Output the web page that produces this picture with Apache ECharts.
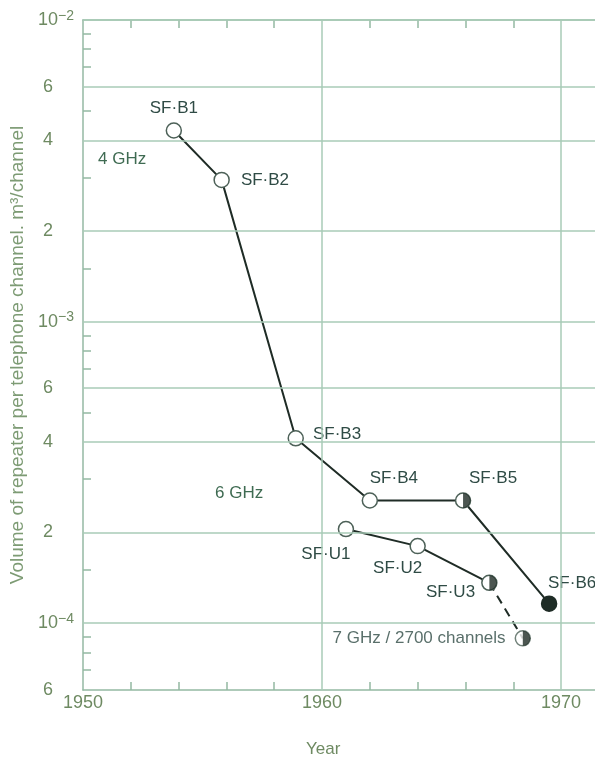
<!DOCTYPE html>
<html>
<head>
<meta charset="utf-8">
<script src="https://cdn.jsdelivr.net/npm/echarts@6/dist/echarts.min.js"></script>
<style>
html, body { margin: 0; padding: 0; background: #fff; }
#main { width: 595px; height: 758px; }
</style>
</head>
<body>
<div id="main"></div>
<script>
// repeater volume per telephone channel (m3/channel), log scale
var bYears = [1953.8, 1955.8, 1958.9, 1962.0, 1965.9, 1969.5];
var bValues = [4.3e-3, 2.95e-3, 4.1e-4, 2.55e-4, 2.55e-4, 1.16e-4];
var bNames = ['SF·B1', 'SF·B2', 'SF·B3', 'SF·B4', 'SF·B5', 'SF·B6'];
var uYears = [1961.0, 1964.0, 1967.0];
var uValues = [2.05e-4, 1.8e-4, 1.36e-4];
var uNames = ['SF·U1', 'SF·U2', 'SF·U3'];
var sevenYear = 1968.4;
var sevenValue = 8.9e-5;
var sevenName = '7 GHz / 2700 channels';

var yMajor = [1e-2, 6e-3, 4e-3, 2e-3, 1e-3, 6e-4, 4e-4, 2e-4, 1e-4, 6e-5];
var yMajorLabels = ['10^-2', '6', '4', '2', '10^-3', '6', '4', '2', '10^-4', '6'];
var yMinor = [9e-3, 8e-3, 7e-3, 5e-3, 3e-3, 1.5e-3, 9e-4, 8e-4, 7e-4, 5e-4, 3e-4, 1.5e-4, 9e-5, 8e-5, 7e-5];
var xLabels = [1950, 1960, 1970];
var xMinor = [1952, 1954, 1956, 1958, 1962, 1964, 1966, 1968];
var xGrid = [1960, 1970];

var lg = Math.log10;
var tickColor = '#6e8a62';
var gridColor = '#a9cbb7';
var axisColor = '#94b9a3';
var lineColor = '#1f2c26';
var ringColor = '#4d6158';
var textColor = '#2f4b45';
var font = 'Liberation Sans';

function yLabel(v) {
  for (var i = 0; i < yMajor.length; i++) {
    if (Math.abs(lg(yMajor[i]) - v) < 1e-6) {
      var t = yMajorLabels[i];
      if (t.indexOf('10^') === 0) return '{b|10}{s|' + t.slice(3).replace('-', '\u2212') + '}';
      return '{b|' + t + '}{p|}';
    }
  }
  return '';
}

// per-point label placement
var bLabels = [
  { position: 'top', distance: 5 },
  { position: 'right', distance: 11 },
  { position: 'right', distance: 9, offset: [0, -4] },
  { position: 'top', distance: 5, offset: [24, 0] },
  { position: 'top', distance: 5, offset: [30, 0] },
  { position: 'top', distance: 4, offset: [23, 0] }
];
var uLabels = [
  { position: 'bottom', distance: 5, offset: [-20, 3] },
  { position: 'bottom', distance: 5, offset: [-20, 0] },
  { position: 'left', distance: 6, offset: [0, 9] }
];

var bData = bYears.map(function (y, i) {
  var d = { value: [y, lg(bValues[i])], name: bNames[i], label: bLabels[i] };
  if (i === 5) d.itemStyle = { color: lineColor, borderColor: lineColor };
  return d;
});
var uData = uYears.map(function (y, i) {
  return { value: [y, lg(uValues[i])], name: uNames[i], label: uLabels[i] };
});
var halfData = [
  [bYears[4], lg(bValues[4])],
  [uYears[2], lg(uValues[2])],
  [sevenYear, lg(sevenValue)]
];

var labelBase = {
  show: true,
  formatter: '{b}',
  color: textColor,
  fontSize: 17,
  fontFamily: font
};

var gridLines = yMajor.slice(0, yMajor.length - 1).map(function (v) { return { yAxis: lg(v) }; })
  .concat(xGrid.map(function (x) { return { xAxis: x }; }));

var chart = echarts.init(document.getElementById('main'));
chart.setOption({
  animation: false,
  textStyle: { fontFamily: font },
  grid: { left: 83, right: 0, top: 20, bottom: 68 },
  xAxis: [{
    type: 'value',
    min: 1950,
    max: 1971.42,
    position: 'bottom',
    axisLine: { lineStyle: { color: axisColor, width: 1.5 } },
    axisTick: { inside: true, length: 8, customValues: xMinor, lineStyle: { color: axisColor, width: 1.5 } },
    axisLabel: {
      customValues: xLabels, margin: 4, color: tickColor, fontSize: 18, fontFamily: font,
      formatter: function (v) { return String(v); }
    },
    splitLine: { show: false }
  }, {
    type: 'value',
    min: 1950,
    max: 1971.42,
    position: 'top',
    axisLine: { lineStyle: { color: axisColor, width: 1.5 } },
    axisTick: { inside: true, length: 8, customValues: xMinor, lineStyle: { color: axisColor, width: 1.5 } },
    axisLabel: { show: false },
    splitLine: { show: false }
  }],
  yAxis: {
    type: 'value',
    min: lg(6e-5),
    max: lg(1e-2),
    name: 'Volume of repeater per telephone channel. m\u00b3/channel',
    nameLocation: 'middle',
    nameGap: 53,
    nameTextStyle: { color: '#7d9b74', fontSize: 19, fontFamily: font },
    axisLine: { show: true, lineStyle: { color: axisColor, width: 1.5 } },
    axisTick: { inside: true, length: 8, customValues: yMinor.map(lg), lineStyle: { color: axisColor, width: 1.5 } },
    axisLabel: {
      customValues: yMajor.map(lg),
      margin: 9,
      formatter: yLabel,
      rich: {
        b: { fontSize: 18, color: tickColor, fontFamily: font, lineHeight: 22 },
        s: { fontSize: 14, color: tickColor, fontFamily: font, verticalAlign: 'top', lineHeight: 14 },
        p: { width: 21 }
      }
    },
    splitLine: { show: false }
  },
  series: [{
    type: 'line',
    z: 1,
    silent: true,
    showSymbol: false,
    data: [[1950, lg(6e-5)]],
    lineStyle: { opacity: 0 },
    markLine: {
      silent: true,
      symbol: 'none',
      label: { show: false },
      lineStyle: { color: gridColor, width: 1.5, type: 'solid' },
      data: gridLines
    }
  }, {
    type: 'line',
    z: 3,
    data: bData,
    symbol: 'circle',
    symbolSize: 15,
    lineStyle: { color: lineColor, width: 2 },
    itemStyle: { color: '#fff', borderColor: ringColor, borderWidth: 1.5 },
    label: labelBase
  }, {
    type: 'line',
    z: 3,
    data: uData,
    symbol: 'circle',
    symbolSize: 15,
    lineStyle: { color: lineColor, width: 2 },
    itemStyle: { color: '#fff', borderColor: ringColor, borderWidth: 1.5 },
    label: labelBase
  }, {
    type: 'line',
    z: 2,
    showSymbol: false,
    data: [[uYears[2], lg(uValues[2])], [sevenYear, lg(sevenValue)]],
    lineStyle: { color: lineColor, width: 2, type: [9, 6] }
  }, {
    type: 'scatter',
    z: 3,
    data: [{ value: [sevenYear, lg(sevenValue)], name: sevenName }],
    symbol: 'circle',
    symbolSize: 15,
    itemStyle: { color: '#fff', borderColor: ringColor, borderWidth: 1.5 },
    label: Object.assign({}, labelBase, { position: 'left', distance: 9 })
  }, {
    type: 'scatter',
    z: 4,
    silent: true,
    data: halfData,
    symbol: 'path://M0,0 A10,10 0 0 1 0,20 Z',
    symbolSize: [7.5, 15],
    symbolOffset: [3.75, 0],
    itemStyle: { color: lineColor }
  }],
  graphic: [{
    type: 'text', left: 98, top: 151,
    style: { text: '4 GHz', fill: '#3f6b52', fontSize: 17, fontFamily: font }
  }, {
    type: 'text', left: 215, top: 485,
    style: { text: '6 GHz', fill: '#3f6b52', fontSize: 17, fontFamily: font }
  }, {
    type: 'text', left: 306, top: 741,
    style: { text: 'Year', fill: '#6e8a62', fontSize: 17, fontFamily: font }
  }]
});
</script>
</body>
</html>
